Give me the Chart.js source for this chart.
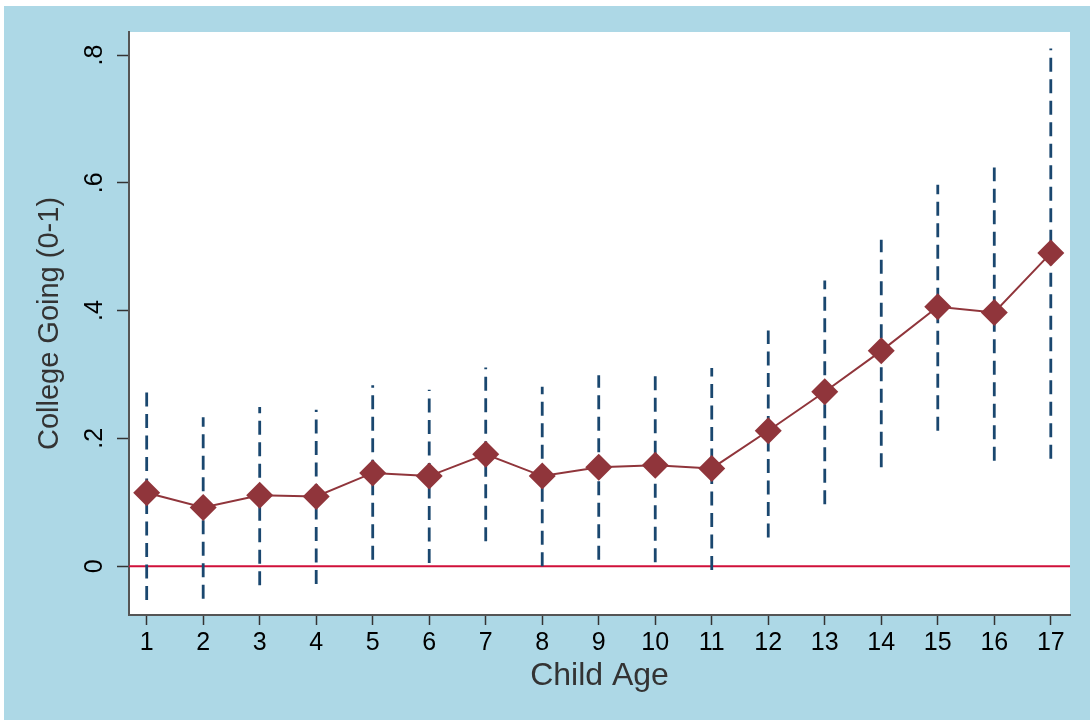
<!DOCTYPE html>
<html>
<head>
<meta charset="utf-8">
<script src="https://cdn.jsdelivr.net/npm/chart.js@4.4.1/dist/chart.umd.min.js"></script>
<style>
  html, body { margin: 0; padding: 0; background: #ffffff; }
  #wrap { position: absolute; left: 4px; top: 6px; width: 1086px; height: 714px; background: #add8e6; }
</style>
</head>
<body>
<div id="wrap"><canvas id="ageChart" width="1086" height="714"></canvas></div>
<script>
// child age on the x axis
const ages = [1, 2, 3, 4, 5, 6, 7, 8, 9, 10, 11, 12, 13, 14, 15, 16, 17];
// point estimates and confidence bounds
const estimate = [0.115, 0.092, 0.111, 0.109, 0.146, 0.141, 0.175, 0.141, 0.155, 0.158, 0.153, 0.212, 0.273, 0.337, 0.406, 0.397, 0.490];
const upper = [0.283, 0.233, 0.249, 0.245, 0.283, 0.276, 0.311, 0.281, 0.299, 0.308, 0.310, 0.369, 0.447, 0.511, 0.597, 0.624, 0.810];
const lower = [-0.053, -0.051, -0.030, -0.028, 0.010, 0.005, 0.039, 0.000, 0.010, 0.006, -0.006, 0.045, 0.097, 0.155, 0.212, 0.165, 0.168];
// axis ticks
const yTickValues = [0, 0.2, 0.4, 0.6, 0.8];
const yTickLabels = ['0', '.2', '.4', '.6', '.8'];
const xMin = 0.687, xMax = 17.34;
const yMin = -0.0764, yMax = 0.836;

const FONT = "'Liberation Sans', Arial, sans-serif";

// error bars: one path per age, broken by null gaps
const ciPoints = [];
ages.forEach((a, i) => {
    ciPoints.push({ x: a, y: lower[i] });
    ciPoints.push({ x: a, y: upper[i] });
    ciPoints.push({ x: a, y: null });
});

const plotBg = {
    id: 'plotBg',
    beforeDraw(chart) {
        const { ctx, chartArea: a } = chart;
        ctx.save();
        ctx.fillStyle = '#ffffff';
        ctx.fillRect(a.left, a.top, a.right - a.left, a.bottom - a.top);
        ctx.restore();
    }
};

new Chart(document.getElementById('ageChart').getContext('2d'), {
    type: 'scatter',
    data: {
        datasets: [
            {
                label: 'College Going',
                data: ages.map((a, i) => ({ x: a, y: estimate[i] })),
                showLine: true,
                borderColor: '#90353b',
                borderWidth: 2,
                pointStyle: 'rectRot',
                pointRadius: 13.5,
                pointBorderWidth: 0,
                pointBackgroundColor: '#90353b',
                pointBorderColor: '#90353b'
            },
            {
                label: 'CI',
                data: ciPoints,
                showLine: true,
                spanGaps: false,
                borderColor: '#1a476f',
                borderWidth: 2.8,
                borderDash: [14, 7.5],
                pointRadius: 0
            },
            {
                label: 'zero',
                data: [{ x: xMin, y: 0 }, { x: xMax, y: 0 }],
                showLine: true,
                borderColor: '#d0103a',
                borderWidth: 2,
                pointRadius: 0
            }
        ]
    },
    options: {
        responsive: false,
        animation: false,
        devicePixelRatio: 1,
        layout: { padding: { left: 0, top: 24, right: 20, bottom: 0 } },
        plugins: {
            legend: { display: false },
            tooltip: { enabled: false }
        },
        scales: {
            x: {
                type: 'linear',
                min: xMin,
                max: xMax,
                afterBuildTicks: (scale) => { scale.ticks = ages.map(v => ({ value: v })); },
                afterFit: (scale) => { scale.height = 105; },
                grid: {
                    drawOnChartArea: false,
                    drawTicks: true,
                    tickLength: 10,
                    tickWidth: 1.5,
                    tickColor: '#333333'
                },
                border: { color: '#555555', width: 2 },
                ticks: {
                    color: '#000000',
                    padding: 3,
                    maxRotation: 0,
                    autoSkip: false,
                    font: { family: FONT, size: 25 }
                },
                title: {
                    display: true,
                    text: 'Child Age',
                    color: '#333333',
                    font: { family: FONT, size: 32 },
                    padding: { top: 0, bottom: 25 }
                }
            },
            y: {
                min: yMin,
                max: yMax,
                afterBuildTicks: (scale) => { scale.ticks = yTickValues.map(v => ({ value: v })); },
                afterFit: (scale) => { scale.width = 125; },
                grid: {
                    drawOnChartArea: false,
                    drawTicks: true,
                    tickLength: 12,
                    tickWidth: 1.5,
                    tickColor: '#333333'
                },
                border: { color: '#555555', width: 2 },
                ticks: {
                    color: '#000000',
                    padding: 11,
                    minRotation: 90,
                    maxRotation: 90,
                    crossAlign: 'center',
                    font: { family: FONT, size: 25 },
                    callback: (value, index) => yTickLabels[index]
                },
                title: {
                    display: true,
                    text: 'College Going (0-1)',
                    color: '#333333',
                    font: { family: FONT, size: 29 },
                    padding: { top: 29, bottom: 0 }
                }
            }
        }
    },
    plugins: [plotBg]
});
</script>
</body>
</html>
